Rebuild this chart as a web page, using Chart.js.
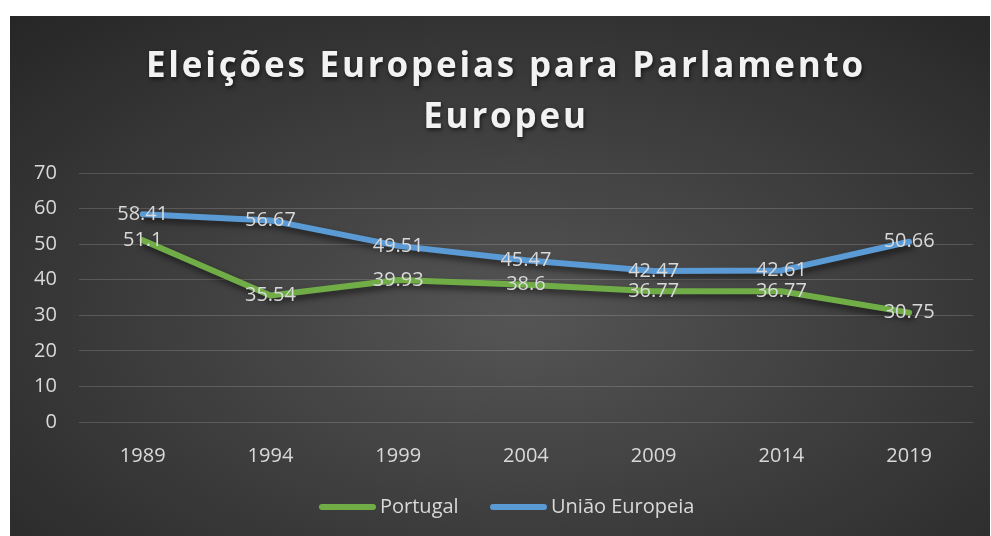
<!DOCTYPE html>
<html>
<head>
<meta charset="utf-8">
<script src="https://cdn.jsdelivr.net/npm/chart.js@4"></script>
<style>
  body { margin: 0; background: #fff; width: 991px; height: 536px; overflow: hidden; }
  #box {
    position: absolute; left: 10px; top: 16px; width: 980px; height: 520px;
    background: radial-gradient(ellipse 75% 80% at 52% 58%, #555555 0%, #3d3d3d 50%, #262626 100%);
  }
  canvas { display: block; }
</style>
</head>
<body>
<div id="box"><canvas id="chart" width="980" height="520"></canvas></div>
<script>
// Eleições europeias - taxa de participação
const years = ["1989", "1994", "1999", "2004", "2009", "2014", "2019"];
const portugal = [51.1, 35.54, 39.93, 38.6, 36.77, 36.77, 30.75];
const uniaoEuropeia = [58.41, 56.67, 49.51, 45.47, 42.47, 42.61, 50.66];
const titleLines = ["Eleições Europeias para Parlamento", "Europeu"];
const seriesNames = ["Portugal", "União Europeia"];

const GREEN = "#70ad47";
const BLUE = "#5b9bd5";
const TEXT = "#d9d9d9";
const FONT = "'Open Sans', 'Noto Sans', sans-serif";

// title with letter spacing + shadow
const titlePlugin = {
    id: "titleDraw",
    afterDraw(chart) {
        const ctx = chart.ctx;
        ctx.save();
        ctx.font = "bold 35px " + FONT;
        ctx.letterSpacing = "2.8px";
        ctx.fillStyle = "#f2f2f2";
        ctx.textAlign = "center";
        ctx.textBaseline = "middle";
        ctx.shadowColor = "rgba(0,0,0,0.6)";
        ctx.shadowBlur = 4;
        ctx.shadowOffsetX = 1;
        ctx.shadowOffsetY = 2;
        ctx.fillText(titleLines[0], 496, 51);
        ctx.fillText(titleLines[1], 496, 102);
        ctx.restore();
    }
};

// line shadows
const shadowPlugin = {
    id: "lineShadow",
    beforeDatasetsDraw(chart) {
        const ctx = chart.ctx;
        ctx.save();
        ctx.shadowColor = "rgba(0,0,0,0.55)";
        ctx.shadowBlur = 6;
        ctx.shadowOffsetX = 2;
        ctx.shadowOffsetY = 4;
    },
    afterDatasetsDraw(chart) {
        chart.ctx.restore();
    }
};

// value labels centred on the points
const labelPlugin = {
    id: "valueLabels",
    afterDatasetsDraw(chart) {
        const ctx = chart.ctx;
        ctx.save();
        ctx.font = "20px " + FONT;
        ctx.fillStyle = TEXT;
        ctx.textAlign = "center";
        ctx.textBaseline = "middle";
        chart.data.datasets.forEach((ds, i) => {
            chart.getDatasetMeta(i).data.forEach((pt, j) => {
                ctx.fillText(String(ds.data[j]), pt.x, pt.y);
            });
        });
        ctx.restore();
    }
};

// legend drawn by hand (rounded line samples)
const legendPlugin = {
    id: "legendDraw",
    afterDraw(chart) {
        const ctx = chart.ctx;
        const items = [
            { name: seriesNames[0], color: GREEN, x: 309 },
            { name: seriesNames[1], color: BLUE, x: 480 }
        ];
        ctx.save();
        ctx.font = "20px " + FONT;
        ctx.textBaseline = "middle";
        ctx.lineCap = "round";
        ctx.lineWidth = 6;
        items.forEach(it => {
            ctx.strokeStyle = it.color;
            ctx.beginPath();
            ctx.moveTo(it.x + 3, 491);
            ctx.lineTo(it.x + 54, 491);
            ctx.stroke();
            ctx.fillStyle = TEXT;
            ctx.fillText(it.name, it.x + 61, 491);
        });
        ctx.restore();
    }
};

new Chart(document.getElementById("chart"), {
    type: "line",
    data: {
        labels: years,
        datasets: [
            {
                label: seriesNames[0],
                data: portugal,
                borderColor: GREEN,
                borderWidth: 6,
                borderCapStyle: "round",
                borderJoinStyle: "round",
                pointRadius: 0,
                tension: 0
            },
            {
                label: seriesNames[1],
                data: uniaoEuropeia,
                borderColor: BLUE,
                borderWidth: 6,
                borderCapStyle: "round",
                borderJoinStyle: "round",
                pointRadius: 0,
                tension: 0
            }
        ]
    },
    options: {
        responsive: false,
        animation: false,
        layout: { padding: { left: 2, right: 17, top: 157, bottom: 54 } },
        plugins: {
            legend: { display: false },
            title: { display: false },
            tooltip: { enabled: false }
        },
        scales: {
            x: {
                offset: true,
                grid: { display: false },
                border: { display: false },
                ticks: { color: TEXT, font: { family: FONT, size: 20 }, padding: 14 }
            },
            y: {
                min: 0,
                max: 70,
                grid: { color: "rgba(255,255,255,0.16)", lineWidth: 1, drawTicks: false },
                border: { display: false },
                ticks: { stepSize: 10, color: TEXT, font: { family: FONT, size: 20 }, padding: 22 }
            }
        }
    },
    plugins: [shadowPlugin, labelPlugin, titlePlugin, legendPlugin]
});
</script>
</body>
</html>
